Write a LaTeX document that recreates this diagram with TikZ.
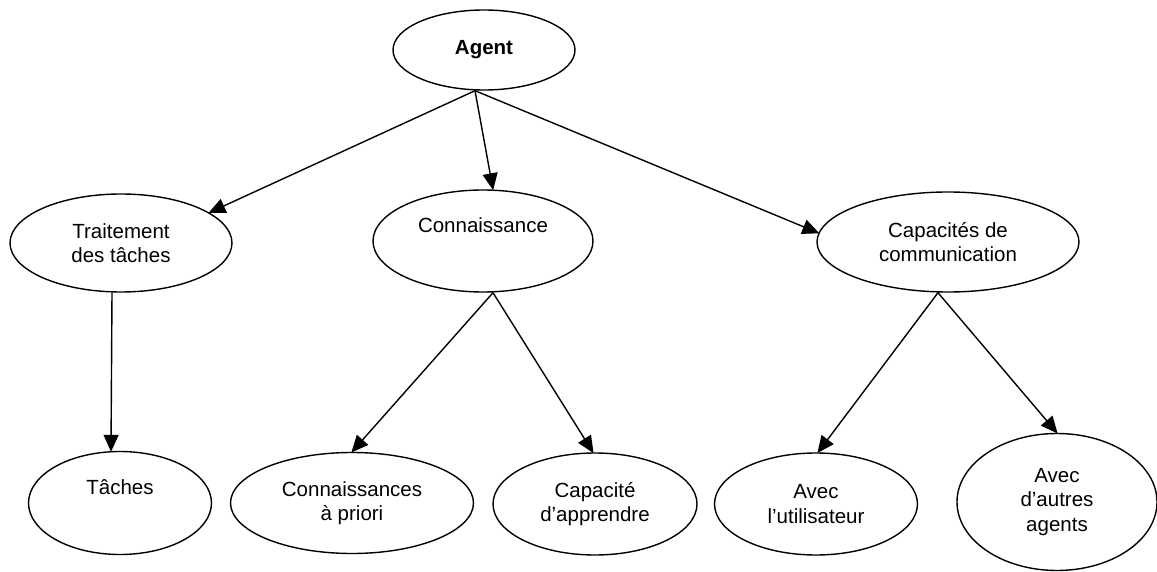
\documentclass[tikz,border=0pt]{standalone}
\usepackage{fontspec}
\setmainfont{Liberation Sans}
\usetikzlibrary{shapes.geometric,arrows.meta}

\tikzset{
  concept/.style={ellipse, draw, line width=1.4pt, inner sep=0pt, align=center,
    font=\fontsize{20.5}{24.5}\selectfont},
  link/.style={line width=1.4pt, -{Triangle[length=17pt,width=15pt]}, shorten >=-1pt}
}

\begin{document}
\begin{tikzpicture}[x=1pt,y=-1pt]
  \fill[white] (0,0) rectangle (1157,572);
  \useasboundingbox (0,0) rectangle (1157,572);

  % root
  \node[concept, minimum width=182pt, minimum height=80pt] (agent) at (484,50) {\bfseries Agent};

  % second level
  \node[concept, minimum width=222pt, minimum height=98pt] (trait) at (121,243) {Traitement\\des tâches};
  \node[concept, minimum width=220pt, minimum height=102pt] (conn) at (483,241) {Connaissance\\\strut};
  \node[concept, minimum width=262pt, minimum height=100pt] (cap) at (948,242) {Capacités de\\communication};

  % leaves
  \node[concept, minimum width=183pt, minimum height=103pt] (taches) at (120,503) {Tâches\\\strut};
  \node[concept, minimum width=243pt, minimum height=101pt] (priori) at (352,503) {Connaissances\\à priori};
  \node[concept, minimum width=204pt, minimum height=102pt] (apprendre) at (595,504) {Capacité\\d’apprendre};
  \node[concept, minimum width=203pt, minimum height=102pt] (util) at (816,504) {Avec\\l’utilisateur};
  \node[concept, minimum width=200pt, minimum height=137pt] (autres) at (1057,502) {Avec\\d’autres\\agents};

  % connectors
  \draw[link] ([xshift=-9pt]agent.south) -- (trait.19);
  \draw[link] ([xshift=-9pt]agent.south) -- ([xshift=10pt]conn.north);
  \draw[link] ([xshift=-9pt]agent.south) -- (cap.176);

  \draw[link] ([xshift=-9pt]trait.south) -- ([xshift=-9pt]taches.north);

  \draw[link] ([xshift=10pt]conn.south) -- (priori.north);
  \draw[link] ([xshift=10pt]conn.south) -- ([xshift=-2pt]apprendre.north);

  \draw[link] ([xshift=-10pt]cap.south) -- ([xshift=2pt]util.north);
  \draw[link] ([xshift=-10pt]cap.south) -- (autres.north);
\end{tikzpicture}
\end{document}
